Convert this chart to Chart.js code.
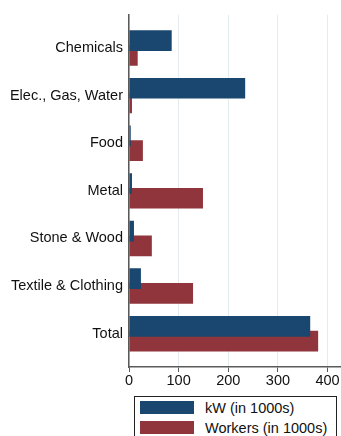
<!DOCTYPE html>
<html>
<head>
<meta charset="utf-8">
<script src="https://cdn.jsdelivr.net/npm/chart.js@4.4.0/dist/chart.umd.min.js"></script>
<style>
  body { margin: 0; background: #fff; }
  #wrap { position: relative; width: 341px; height: 436px; overflow: hidden; }
  #legend {
    position: absolute; left: 134px; top: 396px; width: 203px; height: 60px;
    border: 1px solid #222; box-sizing: border-box;
    font-family: "Liberation Sans", Arial, sans-serif; font-size: 14.5px; color: #111;
  }
  .row { position: absolute; left: 5px; height: 14px; line-height: 14px; white-space: nowrap; }
  .sw { display: inline-block; width: 54px; height: 13px; vertical-align: top; margin-right: 11px; }
</style>
</head>
<body>
<div id="wrap">
  <canvas id="chart" width="341" height="392"></canvas>
  <div id="legend"></div>
</div>
<script>
// data
const categories = ["Chemicals", "Elec., Gas, Water", "Food", "Metal", "Stone & Wood", "Textile & Clothing", "Total"];
const kwValues = [86, 234, 3.5, 6, 10, 24, 365];
const workerValues = [17.5, 6, 28, 149, 46, 129, 381];
const xTicks = [0, 100, 200, 300, 400];

const navy = "#1a476f";
const maroon = "#90353b";
const font = { family: '"Liberation Sans", Arial, sans-serif', size: 14.5 };

const chart = new Chart(document.getElementById("chart"), {
  type: "bar",
  data: {
    datasets: [
      {
        label: "kW (in 1000s)",
        data: kwValues.map((v, i) => ({ x: v, y: i })),
        backgroundColor: navy
      },
      {
        label: "Workers (in 1000s)",
        data: workerValues.map((v, i) => ({ x: v, y: i })),
        backgroundColor: maroon
      }
    ]
  },
  options: {
    indexAxis: "y",
    responsive: false,
    animation: false,
    categoryPercentage: 0.62,
    barPercentage: 1.4,
    layout: { padding: { top: 8, right: 1, left: 0, bottom: 0 } },
    plugins: { legend: { display: false }, tooltip: { enabled: false } },
    scales: {
      y: {
        type: "linear",
        reverse: true,
        offset: false,
        min: -0.7,
        max: categories.length - 0.3,
        afterFit: s => { s.width = 129; },
        grid: { display: false, drawTicks: false, offset: false },
        border: { display: true, color: "#5a5a5a", width: 1.5 },
        ticks: {
          stepSize: 1,
          includeBounds: false,
          autoSkip: false,
          padding: 6,
          color: "#111",
          font: font,
          callback: v => categories[v] || ""
        }
      },
      x: {
        type: "linear",
        min: 0,
        max: 425,
        afterFit: s => { s.height = 25; },
        afterBuildTicks: s => { s.ticks = xTicks.map(v => ({ value: v })); },
        grid: { color: "#e3edef", lineWidth: 1, tickColor: "#5a5a5a", tickLength: 5 },
        border: { display: true, color: "#5a5a5a", width: 1.5 },
        ticks: { padding: 0, color: "#111", font: font, maxRotation: 0 }
      }
    }
  }
});

// legend box built from the datasets
const legend = document.getElementById("legend");
chart.data.datasets.forEach((ds, i) => {
  const row = document.createElement("div");
  row.className = "row";
  row.style.top = (4 + i * 20) + "px";
  row.innerHTML = `<span class="sw" style="background:${ds.backgroundColor}"></span>${ds.label}`;
  legend.appendChild(row);
});
</script>
</body>
</html>
